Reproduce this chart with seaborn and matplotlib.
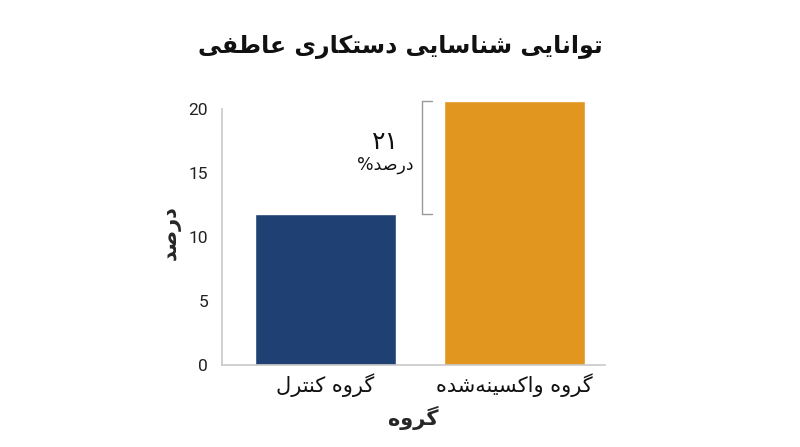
import matplotlib
matplotlib.use("Agg")
import matplotlib.pyplot as plt
import seaborn as sns
import pandas as pd

# ---- data ----
categories = ["گروه کنترل", "گروه واکسینه‌شده"]
values = [11.8, 20.6]
bar_colors = ["#1F4073", "#E0961F"]
yticks = [0, 5, 10, 15, 20]
title_text = "توانایی شناسایی دستکاری عاطفی"
ylabel_text = "درصد"
xlabel_text = "گروه"
diff_number = "٢١"
diff_unit = "درصد%"

# ---- simple Persian shaping (presentation forms) + RTL ordering ----
FORMS = {  # isolated, final, initial, medial
    "\u0627": ("\uFE8D", "\uFE8E", None, None),
    "\u062A": ("\uFE95", "\uFE96", "\uFE97", "\uFE98"),
    "\u062F": ("\uFEA9", "\uFEAA", None, None),
    "\u0631": ("\uFEAD", "\uFEAE", None, None),
    "\u0633": ("\uFEB1", "\uFEB2", "\uFEB3", "\uFEB4"),
    "\u0634": ("\uFEB5", "\uFEB6", "\uFEB7", "\uFEB8"),
    "\u0635": ("\uFEB9", "\uFEBA", "\uFEBB", "\uFEBC"),
    "\u0637": ("\uFEC1", "\uFEC2", "\uFEC3", "\uFEC4"),
    "\u0639": ("\uFEC9", "\uFECA", "\uFECB", "\uFECC"),
    "\u0641": ("\uFED1", "\uFED2", "\uFED3", "\uFED4"),
    "\u0644": ("\uFEDD", "\uFEDE", "\uFEDF", "\uFEE0"),
    "\u0646": ("\uFEE5", "\uFEE6", "\uFEE7", "\uFEE8"),
    "\u0647": ("\uFEE9", "\uFEEA", "\uFEEB", "\uFEEC"),
    "\u0648": ("\uFEED", "\uFEEE", None, None),
    "\u06A9": ("\uFB8E", "\uFB8F", "\uFB90", "\uFB91"),
    "\u06AF": ("\uFB92", "\uFB93", "\uFB94", "\uFB95"),
    "\u06CC": ("\uFBFC", "\uFBFD", "\uFBFE", "\uFBFF"),
}


def dual(c):
    return c in FORMS and FORMS[c][2] is not None


def shape(s):
    out = []
    n = len(s)
    for i, c in enumerate(s):
        if c not in FORMS:
            if c != "\u200c":
                out.append(c)
            continue
        prev = s[i - 1] if i > 0 else ""
        nxt = s[i + 1] if i < n - 1 else ""
        jp = dual(prev)
        jn = dual(c) and nxt in FORMS
        iso, fin, ini, med = FORMS[c]
        if jp and jn:
            g = med
        elif jp:
            g = fin
        elif jn:
            g = ini
        else:
            g = iso
        out.append(g)
    return "".join(reversed(out))


sns.set_theme(style="white")
plt.rcParams["font.family"] = ["DejaVu Sans"]

fig = plt.figure(figsize=(8, 4.47), dpi=100)
ax = fig.add_axes([0.2775, 0.1834, 0.4788, 0.5928])

df = pd.DataFrame({"group": [shape(c) for c in categories], "value": values})
sns.barplot(data=df, x="group", y="value", hue="group", palette=bar_colors,
            width=0.746, legend=False, ax=ax, saturation=1)

ax.set_xlim(-0.548, 1.479)
ax.set_ylim(0, 20.7)
ax.set_yticks(yticks)
ax.set_yticklabels([str(t) for t in yticks], fontsize=12.5, color="#222222",
                   family="Roboto")
ax.tick_params(axis="x", labelsize=15, colors="#111111", pad=6, length=0)
ax.tick_params(axis="y", length=0, pad=10)
for sp in ["top", "right"]:
    ax.spines[sp].set_visible(False)
for sp in ["left", "bottom"]:
    ax.spines[sp].set_color("#c8c8c8")
    ax.spines[sp].set_linewidth(1.2)
ax.spines["left"].set_bounds(0, 20)

ax.set_xlabel(shape(xlabel_text), fontsize=15, fontweight="bold", labelpad=6)
ax.set_ylabel(shape(ylabel_text), fontsize=15, fontweight="bold", labelpad=6)

# bracket annotation
bx0, bx1 = 0.511, 0.563
y_lo, y_hi = values[0], values[1]
ax.plot([bx1, bx0, bx0, bx1], [y_lo, y_lo, y_hi, y_hi], color="#999999",
        lw=1.0, clip_on=False)
mid = (y_lo + y_hi) / 2
ax.text(0.315, mid + 1.2, diff_number, ha="center", va="center", fontsize=18,
        color="#111111")
ax.text(0.315, mid - 0.55, shape(diff_unit), ha="center", va="center",
        fontsize=12.5, color="#111111")

fig.text(0.5, 0.895, shape(title_text), ha="center", va="center",
         fontsize=17, fontweight="bold", color="#111111")

fig.savefig("out.png", dpi=100)
